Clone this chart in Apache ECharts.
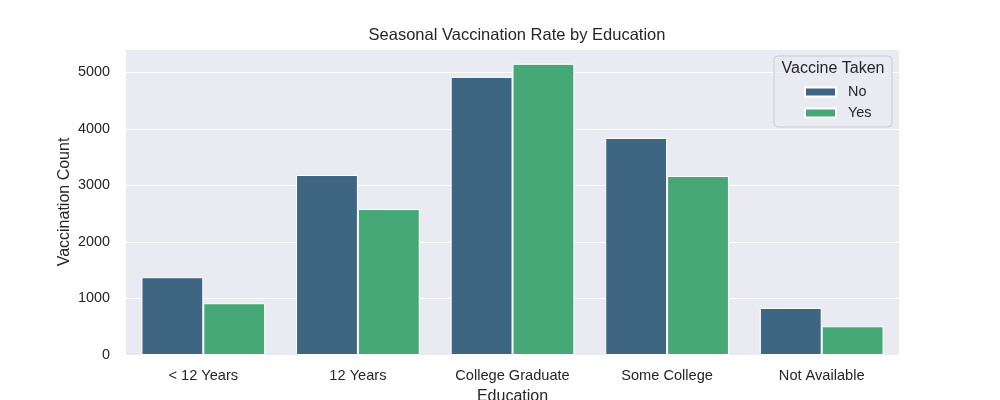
<!DOCTYPE html>
<html><head><meta charset="utf-8">
<script src="https://cdn.jsdelivr.net/npm/echarts@6/dist/echarts.min.js"></script>
<style>html,body{margin:0;padding:0;background:#fff}#c{width:1000px;height:400px}</style>
</head><body><div id="c"></div>
<script>
const categories = ['< 12 Years', '12 Years', 'College Graduate', 'Some College', 'Not Available'];
const noValues = [1375, 3182, 4917, 3837, 832];
const yesValues = [915, 2580, 5148, 3164, 508];
const seriesNames = ['No', 'Yes'];
const yTicks = [0, 1000, 2000, 3000, 4000, 5000];

const FONT = '"Liberation Sans", Arial, sans-serif';
const TXT = '#262626';
const chart = echarts.init(document.getElementById('c'));
chart.setOption({
  animation: false,
  textStyle: { fontFamily: FONT, color: TXT },
  title: {
    text: 'Seasonal Vaccination Rate by Education',
    left: 512, top: 22, textAlign: 'center',
    textStyle: { fontFamily: FONT, fontSize: 16.5, fontWeight: 'normal', color: TXT }
  },
  grid: { left: 126, right: 101, top: 49, bottom: 45, show: true, backgroundColor: '#eaeaf2', borderWidth: 0,
    containLabel: false, outerBoundsMode: 'none' },
  xAxis: {
    type: 'category', data: categories,
    name: 'Education', nameLocation: 'middle', nameGap: 34, nameMoveOverlap: false,
    nameTextStyle: { fontFamily: FONT, fontSize: 16, color: TXT },
    axisLine: { show: false }, axisTick: { show: false },
    axisLabel: { fontFamily: FONT, fontSize: 14.6, color: TXT, margin: 13 }
  },
  yAxis: {
    type: 'value', min: 0, max: 5410, interval: 1000,
    name: 'Vaccination Count', nameLocation: 'middle', nameGap: 53, nameMoveOverlap: false,
    nameTextStyle: { fontFamily: FONT, fontSize: 16, color: TXT },
    axisLine: { show: false }, axisTick: { show: false },
    axisLabel: { fontFamily: FONT, fontSize: 14.4, color: TXT, margin: 16,
      formatter: v => yTicks.includes(v) ? String(v) : '' },
    splitLine: { lineStyle: { color: '#ffffff', width: 1.2 } }
  },
  legend: {
    left: 799, top: 79, orient: 'vertical', z: 20,
    itemWidth: 31, itemHeight: 9, itemGap: 5, icon: 'rect',
    data: seriesNames,
    textStyle: { fontFamily: FONT, fontSize: 14.4, color: TXT, lineHeight: 16, padding: [0, 0, 0, 7] }
  },
  graphic: [
    { type: 'rect', x: 774, y: 56, z: 10,
      shape: { width: 118, height: 71, r: 4 },
      style: { fill: 'rgba(234,234,242,0.8)', stroke: '#cccccc', lineWidth: 1 } },
    { type: 'text', z: 11, x: 833, y: 69,
      style: { text: 'Vaccine Taken', fontFamily: FONT, fontSize: 16, fill: TXT, align: 'center', verticalAlign: 'middle' } }
  ],
  series: [
    { name: seriesNames[0], type: 'bar', data: noValues, barCategoryGap: '20%', barGap: '0%',
      itemStyle: { color: '#3e6582', borderColor: '#ffffff', borderWidth: 1 } },
    { name: seriesNames[1], type: 'bar', data: yesValues, barCategoryGap: '20%', barGap: '0%',
      itemStyle: { color: '#46a877', borderColor: '#ffffff', borderWidth: 1 } }
  ]
});
</script></body></html>
